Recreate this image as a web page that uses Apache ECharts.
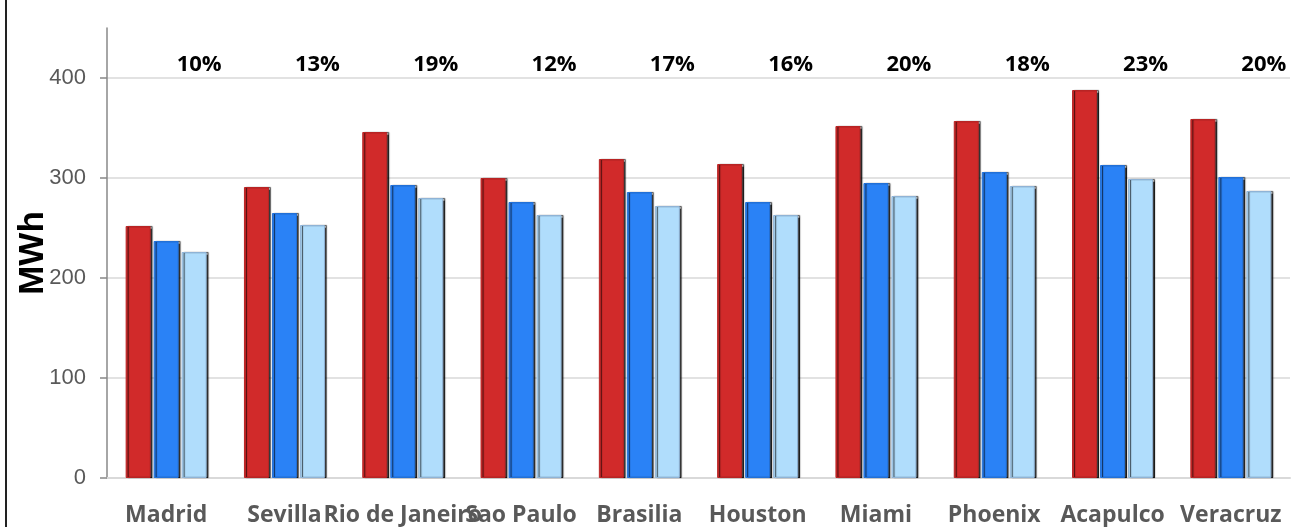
<!DOCTYPE html>
<html>
<head>
<meta charset="utf-8">
<script src="https://cdn.jsdelivr.net/npm/echarts@6/dist/echarts.min.js"></script>
<style>
  html, body { margin: 0; padding: 0; background: #fff; }
  #main { width: 1297px; height: 527px; }
</style>
</head>
<body>
<div id="main"></div>
<script>
// ciudades y produccion (MWh) por tipo de instalacion
var cities = ['Madrid', 'Sevilla', 'Rio de Janeiro', 'Sao Paulo', 'Brasilia', 'Houston', 'Miami', 'Phoenix', 'Acapulco', 'Veracruz']
var redVals = [252, 291, 346, 300, 319, 314, 352, 357, 388, 359]
var blueVals = [237, 265, 293, 276, 286, 276, 295, 306, 313, 301]
var lightVals = [226, 253, 280, 263, 272, 263, 282, 292, 299, 287]
var pctLabels = [10, 13, 19, 12, 17, 16, 20, 18, 23, 20]
var yTicks = [0, 100, 200, 300, 400]

var chart = echarts.init(document.getElementById('main'))

function barShadow(color, border) {
    return {
        color: color,
        borderColor: border,
        borderWidth: 1,
        shadowColor: 'rgba(0,0,0,0.75)',
        shadowBlur: 1,
        shadowOffsetX: 2,
        shadowOffsetY: 0
    }
}

var option = {
    backgroundColor: '#fff',
    animation: false,
    graphic: [
        {
            type: 'rect',
            left: 5,
            top: 0,
            shape: { width: 2, height: 527 },
            style: { fill: '#222' }
        }
    ],
    grid: {
        left: 107,
        right: 7,
        top: 28,
        bottom: 49,
        outerBoundsMode: 'none',
        containLabel: false
    },
    xAxis: {
        type: 'category',
        data: cities,
        axisTick: { show: false },
        axisLine: { lineStyle: { color: '#d9d9d9', width: 2 } },
        axisLabel: {
            interval: 0,
            hideOverlap: false,
            margin: 26,
            color: '#595959',
            fontFamily: 'Open Sans',
            fontWeight: 'bold',
            fontSize: 23
        }
    },
    yAxis: {
        type: 'value',
        min: 0,
        max: 450,
        interval: 100,
        name: 'MWh',
        nameLocation: 'middle',
        nameGap: 56,
        nameMoveOverlap: false,
        nameTextStyle: {
            color: '#000',
            fontFamily: 'Liberation Sans',
            fontWeight: 'bold',
            fontSize: 35
        },
        axisLine: { show: true, lineStyle: { color: '#888', width: 1.5 } },
        axisTick: { show: true, length: 7, customValues: yTicks, lineStyle: { color: '#888', width: 1.5 } },
        axisLabel: {
            customValues: yTicks,
            margin: 21,
            color: '#595959',
            fontFamily: 'Liberation Sans',
            fontSize: 22
        },
        splitLine: { lineStyle: { color: '#d9d9d9', width: 1.5 } }
    },
    series: [
        {
            name: 'red',
            type: 'bar',
            barWidth: 25,
            barGap: '12%',
            data: redVals,
            itemStyle: barShadow('#d12a2a', '#b82424')
        },
        {
            name: 'blue',
            type: 'bar',
            barWidth: 25,
            barGap: '12%',
            data: blueVals,
            itemStyle: barShadow('#2a82f6', '#2170d8')
        },
        {
            name: 'light',
            type: 'bar',
            barWidth: 25,
            barGap: '12%',
            data: lightVals,
            itemStyle: barShadow('#b0ddfc', '#8fb3d6'),
            label: {
                show: true,
                position: 'top',
                formatter: function (p) { return pctLabels[p.dataIndex] + '%' },
                color: '#000',
                fontFamily: 'Open Sans',
                fontWeight: 'bold',
                fontSize: 22
            },
            labelLayout: function () {
                return { y: 65, dx: 5, verticalAlign: 'middle', align: 'center' }
            }
        }
    ]
}
chart.setOption(option)
</script>
</body>
</html>
